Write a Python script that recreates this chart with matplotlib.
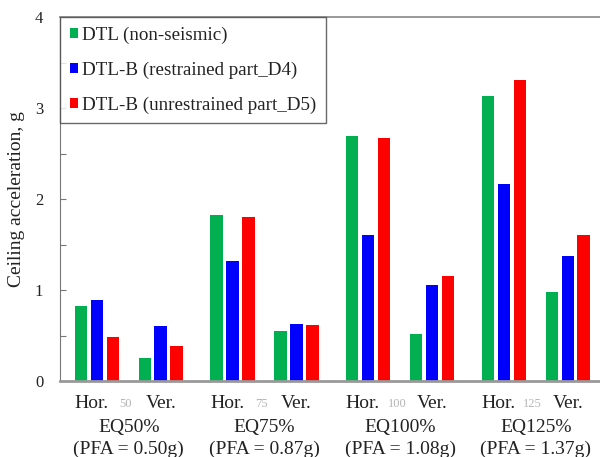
import numpy as np
import matplotlib
matplotlib.use("Agg")
import matplotlib.pyplot as plt
from matplotlib.patches import Patch

plt.rcParams["font.family"] = ["Liberation Serif", "DejaVu Serif"]

# ---------------------------------------------------------------------------
# Data (ceiling acceleration, g)
# ---------------------------------------------------------------------------
levels = ["50", "75", "100", "125"]
eq_labels = ["EQ50%", "EQ75%", "EQ100%", "EQ125%"]
pfa_labels = ["(PFA = 0.50g)", "(PFA = 0.87g)", "(PFA = 1.08g)", "(PFA = 1.37g)"]
series = ["DTL (non-seismic)", "DTL-B (restrained part_D4)", "DTL-B (unrestrained part_D5)"]
colors = ["#00B050", "#0000FF", "#FF0000"]

# each list: one value per level, horizontal / vertical direction
dtl_hor = [0.82, 1.83, 2.70, 3.14]
dtl_ver = [0.25, 0.55, 0.52, 0.98]
d4_hor = [0.89, 1.32, 1.61, 2.17]
d4_ver = [0.60, 0.63, 1.06, 1.37]
d5_hor = [0.48, 1.80, 2.67, 3.31]
d5_ver = [0.39, 0.62, 1.15, 1.61]

hor_vals = [dtl_hor, d4_hor, d5_hor]
ver_vals = [dtl_ver, d4_ver, d5_ver]

# ---------------------------------------------------------------------------
# Plot
# ---------------------------------------------------------------------------
fig = plt.figure(figsize=(6.0, 4.57), dpi=100)
ax = fig.add_axes([0.1, 0.1663, 0.9, 0.7958])

group_step = 8.5
hv_gap = 4.0
w = 0.78
g = np.arange(len(levels))
hor_x = g * group_step
ver_x = hor_x + hv_gap

for i in range(3):
    off = i - 1
    ax.bar(hor_x + off, hor_vals[i], w, color=colors[i], edgecolor="none")
    ax.bar(ver_x + off, ver_vals[i], w, color=colors[i], edgecolor="none")

ax.set_xlim(-2.31, ver_x[-1] + 2.02)
ax.set_ylim(0, 4)
ax.set_yticks([0, 1, 2, 3, 4])
ax.set_yticks(np.arange(0.5, 4, 1.0), minor=True)
ax.tick_params(axis="y", which="both", direction="in", length=4, width=0.8,
               color="#777777", labelsize=12, labelcolor="#222222", pad=12)
ax.set_xticks([])
ax.set_ylabel("Ceiling acceleration, g", fontsize=14, color="#222222", labelpad=7)

ax.spines["right"].set_visible(False)
ax.spines["left"].set_color("#777777")
ax.spines["top"].set_color("#999999")
ax.spines["top"].set_linewidth(1.4)
ax.spines["bottom"].set_color("#999999")
ax.spines["bottom"].set_linewidth(2.0)

# category labels under the axis
for k in range(len(levels)):
    mid = (hor_x[k] + ver_x[k]) / 2
    kw = dict(xycoords=("data", "axes fraction"), textcoords="offset points",
              ha="center", va="center")
    ax.annotate("Hor.", xy=(hor_x[k] - 0.35, 0), xytext=(0, -16.3), fontsize=14,
                color="#222222", **kw)
    ax.annotate("Ver.", xy=(ver_x[k], 0), xytext=(0, -16.3), fontsize=14,
                color="#222222", **kw)
    ax.annotate(levels[k], xy=(mid - 0.2, 0), xytext=(0, -16.3), fontsize=9,
                color="#b5b5b5", **kw)
    ax.annotate(eq_labels[k], xy=(mid, 0), xytext=(0, -33.5), fontsize=14,
                color="#222222", **kw)
    ax.annotate(pfa_labels[k], xy=(mid, 0), xytext=(0, -49.5), fontsize=14,
                color="#222222", **kw)

handles = [Patch(facecolor=c, edgecolor="none") for c in colors]
leg = ax.legend(handles, series, loc="upper left", bbox_to_anchor=(0, 1),
                borderaxespad=0, fontsize=13.7, frameon=True, fancybox=False,
                handlelength=0.43, handleheight=0.43, handletextpad=0.25,
                labelspacing=0.92, borderpad=0.5)
leg.get_frame().set_edgecolor("#444444")
leg.get_frame().set_linewidth(1.0)
for t in leg.get_texts():
    t.set_color("#222222")

fig.savefig("out.png", dpi=100)
plt.close(fig)
